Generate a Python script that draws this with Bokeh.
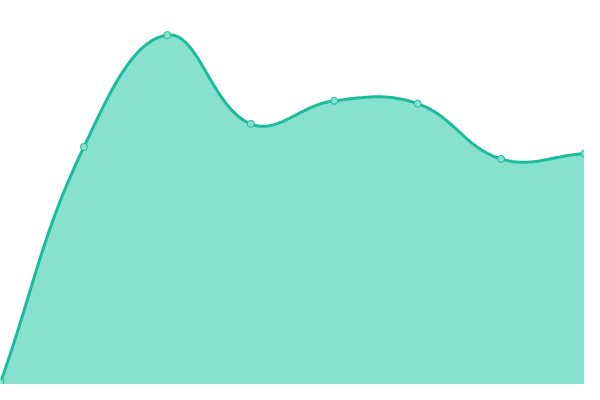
import numpy as np
from bokeh.plotting import figure
from bokeh.models import Range1d
from bokeh.embed import file_html
from bokeh.resources import INLINE

# data (index positions, values on a 0..400 scale)
labels = ["1", "2", "3", "4", "5", "6", "7", "8"]
values = [2, 247.5, 364, 271.5, 295.5, 292.5, 235, 240.5]

W, H = 584, 384
YMAX = 400.0
XMAX = len(values) - 1
tension = 0.4

xs = np.arange(len(values), dtype=float)
ys = np.array(values, dtype=float)

# screen-space coordinates for spline control points (Chart.js style)
sx = xs * W / XMAX
sy = ys * H / YMAX
n = len(sx)
cp_prev = [None] * n
cp_next = [None] * n
for i in range(n):
    p1 = np.array([sx[i], sy[i]])
    p0 = np.array([sx[i - 1], sy[i - 1]]) if i > 0 else p1
    p2 = np.array([sx[i + 1], sy[i + 1]]) if i < n - 1 else p1
    d01 = np.hypot(*(p1 - p0))
    d12 = np.hypot(*(p2 - p1))
    tot = d01 + d12
    s01 = d01 / tot if tot else 0
    s12 = d12 / tot if tot else 0
    fa, fb = tension * s01, tension * s12
    cp_prev[i] = np.clip(p1 - fa * (p2 - p0), [0, 0], [W, H])
    cp_next[i] = np.clip(p1 + fb * (p2 - p0), [0, 0], [W, H])

cx, cy = [], []
t = np.linspace(0, 1, 40)
for i in range(n - 1):
    P0 = np.array([sx[i], sy[i]]); P1 = cp_next[i]; P2 = cp_prev[i + 1]; P3 = np.array([sx[i + 1], sy[i + 1]])
    pts = ((1 - t) ** 3)[:, None] * P0 + (3 * (1 - t) ** 2 * t)[:, None] * P1 + (3 * (1 - t) * t ** 2)[:, None] * P2 + (t ** 3)[:, None] * P3
    cx.extend(pts[:, 0]); cy.extend(pts[:, 1])
cx = np.array(cx) * XMAX / W
cy = np.array(cy) * YMAX / H

p = figure(width=W, height=H, output_backend="svg", toolbar_location=None,
           x_range=Range1d(0, XMAX), y_range=Range1d(0, YMAX),
           min_border=0, outline_line_color=None)
p.axis.visible = False
p.grid.visible = False
p.background_fill_color = "white"
p.border_fill_color = "white"

px = np.concatenate([[cx[0]], cx, [cx[-1]]])
py = np.concatenate([[0], cy, [0]])
p.patch(px, py, fill_color="#88e0cf", line_color=None)
p.line(cx, cy, line_color="#1abc9c", line_width=3)
p.scatter(xs, ys, size=7, fill_color="#88e0cf", line_color="#1abc9c", line_width=1)

open("out.html", "w").write(file_html(p, INLINE))
